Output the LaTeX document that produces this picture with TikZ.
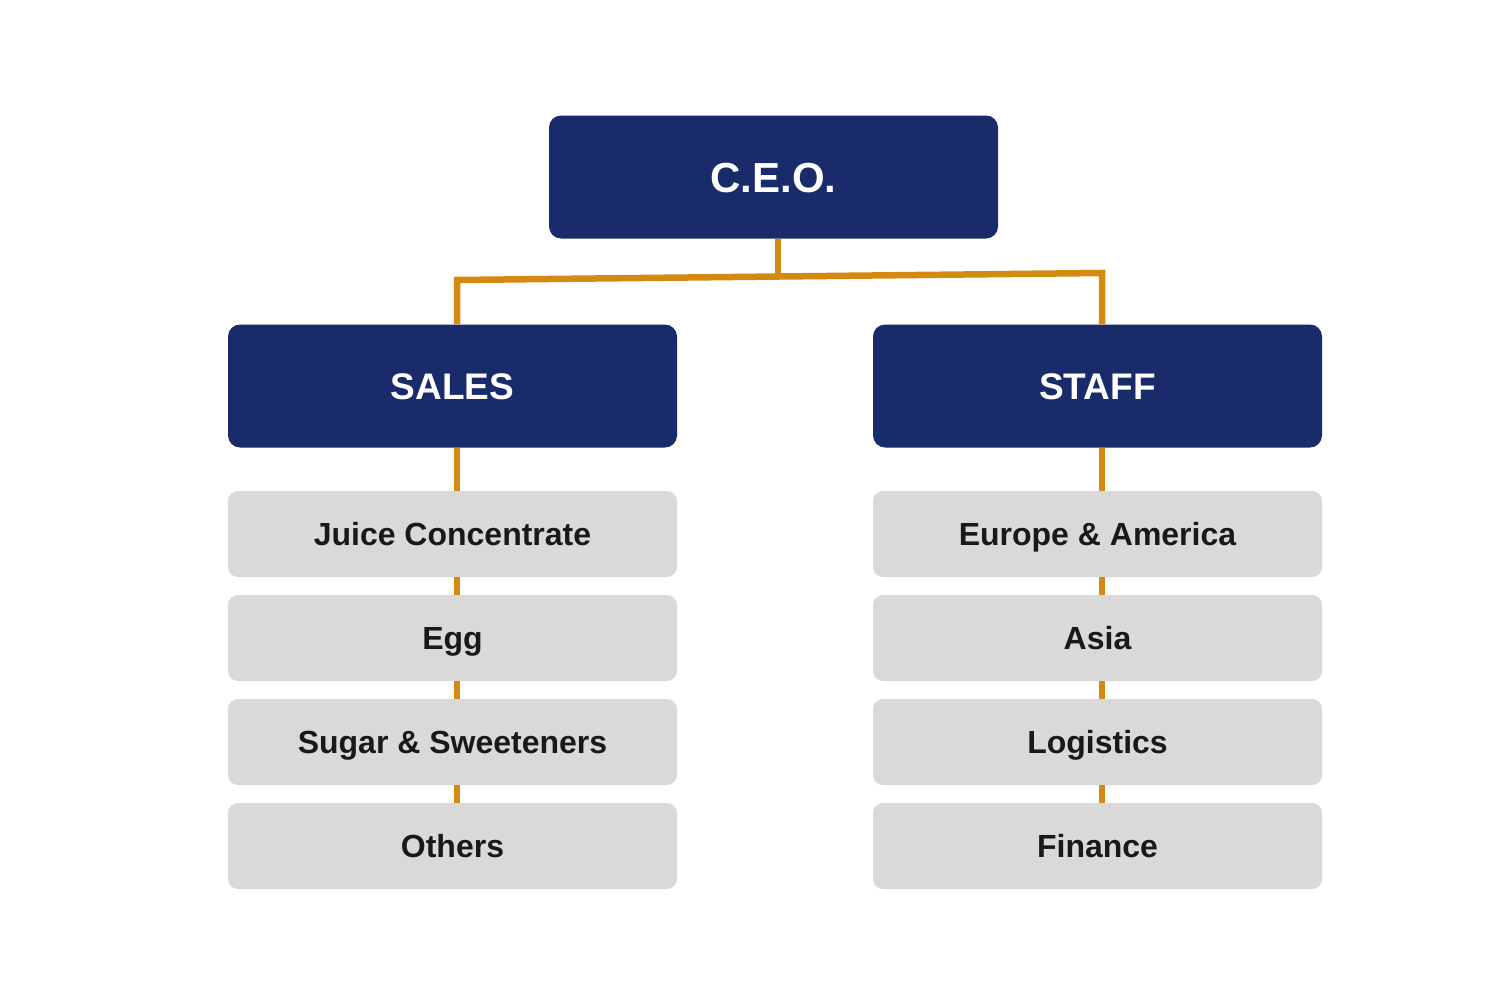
\documentclass[tikz,border=0pt]{standalone}
\usepackage{fontspec}
\setmainfont{Liberation Sans}
\begin{document}
\begin{tikzpicture}[x=1pt,y=-1pt,
  navybox/.style={fill=navy,draw=none,rounded corners=12pt,minimum width=449pt,minimum height=123pt,text=white,font=\bfseries\fontsize{37}{42}\selectfont,inner sep=0pt,text height=26.5pt,text depth=0pt},
  graybox/.style={fill=boxgray,draw=none,rounded corners=10pt,minimum width=449pt,minimum height=86pt,text=black!90,font=\bfseries\fontsize{32}{36}\selectfont,inner sep=0pt,text height=22.9pt,text depth=0pt},
  link/.style={draw=linkorange,line width=6.5pt}]
\definecolor{navy}{RGB}{26,43,107}
\definecolor{linkorange}{RGB}{212,137,16}
\definecolor{boxgray}{RGB}{217,217,217}
\useasboundingbox (0,0) rectangle (1512,982);
\coordinate (jl) at (457,280);
\coordinate (jr) at (1102,273);
\coordinate (jc) at (778,276.5);
\node[navybox,font=\bfseries\fontsize{42}{48}\selectfont,text height=30.1pt] (ceo) at (773.5,177) {C.E.O.};
\node[navybox] (sales) at (452.5,386) {SALES};
\node[navybox] (staff) at (1097.5,386) {STAFF};
\node[graybox] (s1) at (452.5,534) {Juice Concentrate};
\node[graybox] (s2) at (452.5,638) {Egg};
\node[graybox] (s3) at (452.5,742) {Sugar \& Sweeteners};
\node[graybox] (s4) at (452.5,846) {Others};
\node[graybox] (t1) at (1097.5,534) {Europe \& America};
\node[graybox] (t2) at (1097.5,638) {Asia};
\node[graybox] (t3) at (1097.5,742) {Logistics};
\node[graybox] (t4) at (1097.5,846) {Finance};
\draw[link] (ceo.south -| jc) -- (jc);
\draw[link,line join=miter] (sales.north -| jl) -- (jl) -- (jr) -- (staff.north -| jr);
\draw[link] (sales.south -| jl) -- (s1.north -| jl);
\draw[link] (s1.south -| jl) -- (s2.north -| jl);
\draw[link] (s2.south -| jl) -- (s3.north -| jl);
\draw[link] (s3.south -| jl) -- (s4.north -| jl);
\draw[link] (staff.south -| jr) -- (t1.north -| jr);
\draw[link] (t1.south -| jr) -- (t2.north -| jr);
\draw[link] (t2.south -| jr) -- (t3.north -| jr);
\draw[link] (t3.south -| jr) -- (t4.north -| jr);
\end{tikzpicture}
\end{document}
